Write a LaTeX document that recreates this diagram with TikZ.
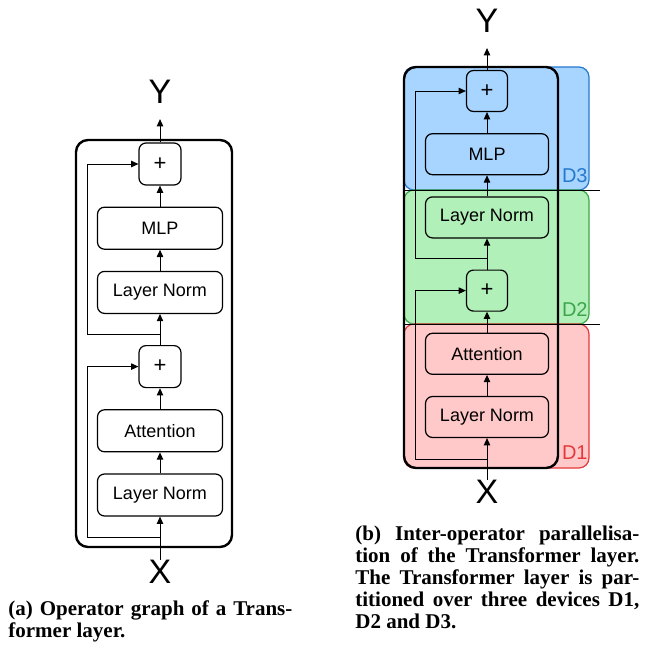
\documentclass[tikz,border=0pt]{standalone}
\usepackage{fontspec}
\setmainfont{Liberation Serif}
\setsansfont{Liberation Sans}
\usetikzlibrary{positioning,calc,arrows.meta}
\definecolor{dthreefill}{RGB}{168,213,255}
\definecolor{dthreeline}{RGB}{36,120,205}
\definecolor{dtwofill}{RGB}{178,240,185}
\definecolor{dtwoline}{RGB}{60,165,75}
\definecolor{donefill}{RGB}{255,201,201}
\definecolor{doneline}{RGB}{228,56,60}
\tikzset{
  op/.style={draw,rounded corners=3.5pt,line width=0.6pt,minimum width=62.5pt,minimum height=21pt,inner sep=0pt,font=\sffamily\fontsize{9}{10}\selectfont},
  add/.style={op,minimum width=21pt,font=\sffamily\fontsize{11}{11}\selectfont},
  flow/.style={-{Triangle[width=3.2pt,length=3.6pt]},line width=0.5pt},
  io/.style={inner sep=0pt,font=\sffamily\fontsize{17}{17}\selectfont},
  layer/.style={line width=1.2pt,rounded corners=6pt},
  device/.style={line width=0.6pt,rounded corners=5pt},
  devlabel/.style={anchor=base east,inner sep=0pt,font=\sffamily\fontsize{10}{10}\selectfont},
  caption/.style={anchor=north west,inner sep=0pt,text width=142pt,align=justify,font=\bfseries\fontsize{10.5}{11}\selectfont}
}
\begin{document}
\begin{tikzpicture}[x=0.5pt,y=-0.5pt,node distance=10.5pt]
\useasboundingbox (0,0) rectangle (645,653);

    \node[op] (lnA) at (160,495) {Layer Norm};
    \node[op,above=of lnA] (attA) {Attention};
    \node[add,above=of attA] (addA) {+};
    \node[op,above=15.5pt of addA] (lnB) {Layer Norm};
    \node[op,above=of lnB] (mlpA) {MLP};
    \node[add,above=of mlpA] (addB) {+};
    \node[io] (inA) at (160,572) {X};
    \node[io] (outA) at (160,92) {Y};
      \draw[flow] (inA) -- (lnA);
      \draw[flow] (lnA) -- (attA);
      \draw[flow] (attA) -- (addA);
      \draw[flow] (addA) -- (lnB);
      \draw[flow] (lnB) -- (mlpA);
      \draw[flow] (mlpA) -- (addB);
      \draw[flow,shorten >=7.5pt] (addB) -- (outA);
    \coordinate (brA) at ($(lnA.south)+(0,21)$);
    \coordinate (brB) at ($(lnB.south)+(0,20)$);
      \draw[flow] (brA) -- ++(-73,0) |- (addA);
      \draw[flow] (brB) -- ++(-73,0) |- (addB);
    \draw[layer] ($(lnA)+(-84,52)$) rectangle ($(lnA)+(72,-355)$);

    \draw[device,fill=dthreefill,draw=dthreeline] (404,67) rectangle (589,190);
    \draw[device,fill=dtwofill,draw=dtwoline] (404,190) rectangle (589,324);
    \draw[device,fill=donefill,draw=doneline] (404,324) rectangle (589,468);
    \draw[line width=0.5pt] (404,190) -- (600,190);
    \draw[line width=0.5pt] (404,324) -- (600,324);
    \node[devlabel,text=dthreeline] (dthree) at (588,182) {D3};
    \node[devlabel,text=dtwoline] (dtwo) at (588,316) {D2};
    \node[devlabel,text=doneline] (done) at (588,459) {D1};

  \begin{scope}[op/.append style={minimum height=20.5pt,minimum width=61.5pt},add/.append style={minimum width=20.5pt}]
    \node[op] (lnC) at (487,417) {Layer Norm};
    \node[op,above=of lnC] (attC) {Attention};
    \node[add,above=of attC] (addC) {+};
    \node[op,above=15.5pt of addC] (lnD) {Layer Norm};
    \node[op,above=of lnD] (mlpC) {MLP};
    \node[add,above=of mlpC] (addD) {+};
    \node[io] (inC) at (487,492) {X};
    \node[io] (outC) at (487,21) {Y};
      \draw[flow] (inC) -- (lnC);
      \draw[flow] (lnC) -- (attC);
      \draw[flow] (attC) -- (addC);
      \draw[flow] (addC) -- (lnD);
      \draw[flow] (lnD) -- (mlpC);
      \draw[flow] (mlpC) -- (addD);
      \draw[flow,shorten >=7.5pt] (addD) -- (outC);
    \coordinate (brC) at ($(lnC.south)+(0,21)$);
    \coordinate (brD) at ($(lnD.south)+(0,20)$);
      \draw[flow] (brC) -- ++(-72,0) |- (addC);
      \draw[flow] (brD) -- ++(-72,0) |- (addD);
    \draw[layer] ($(lnC)+(-83,51)$) rectangle ($(lnC)+(71,-350)$);
  \end{scope}

    \node[caption] (capA) at (8,600) {(a) Operator graph of a Trans-\linebreak former layer.};
    \node[caption] (capB) at (355,526) {(b) Inter-operator parallelisa-\linebreak tion of the Transformer layer.\linebreak The Transformer layer is par-\linebreak titioned over three devices D1,\linebreak D2 and D3.};
\end{tikzpicture}
\end{document}
